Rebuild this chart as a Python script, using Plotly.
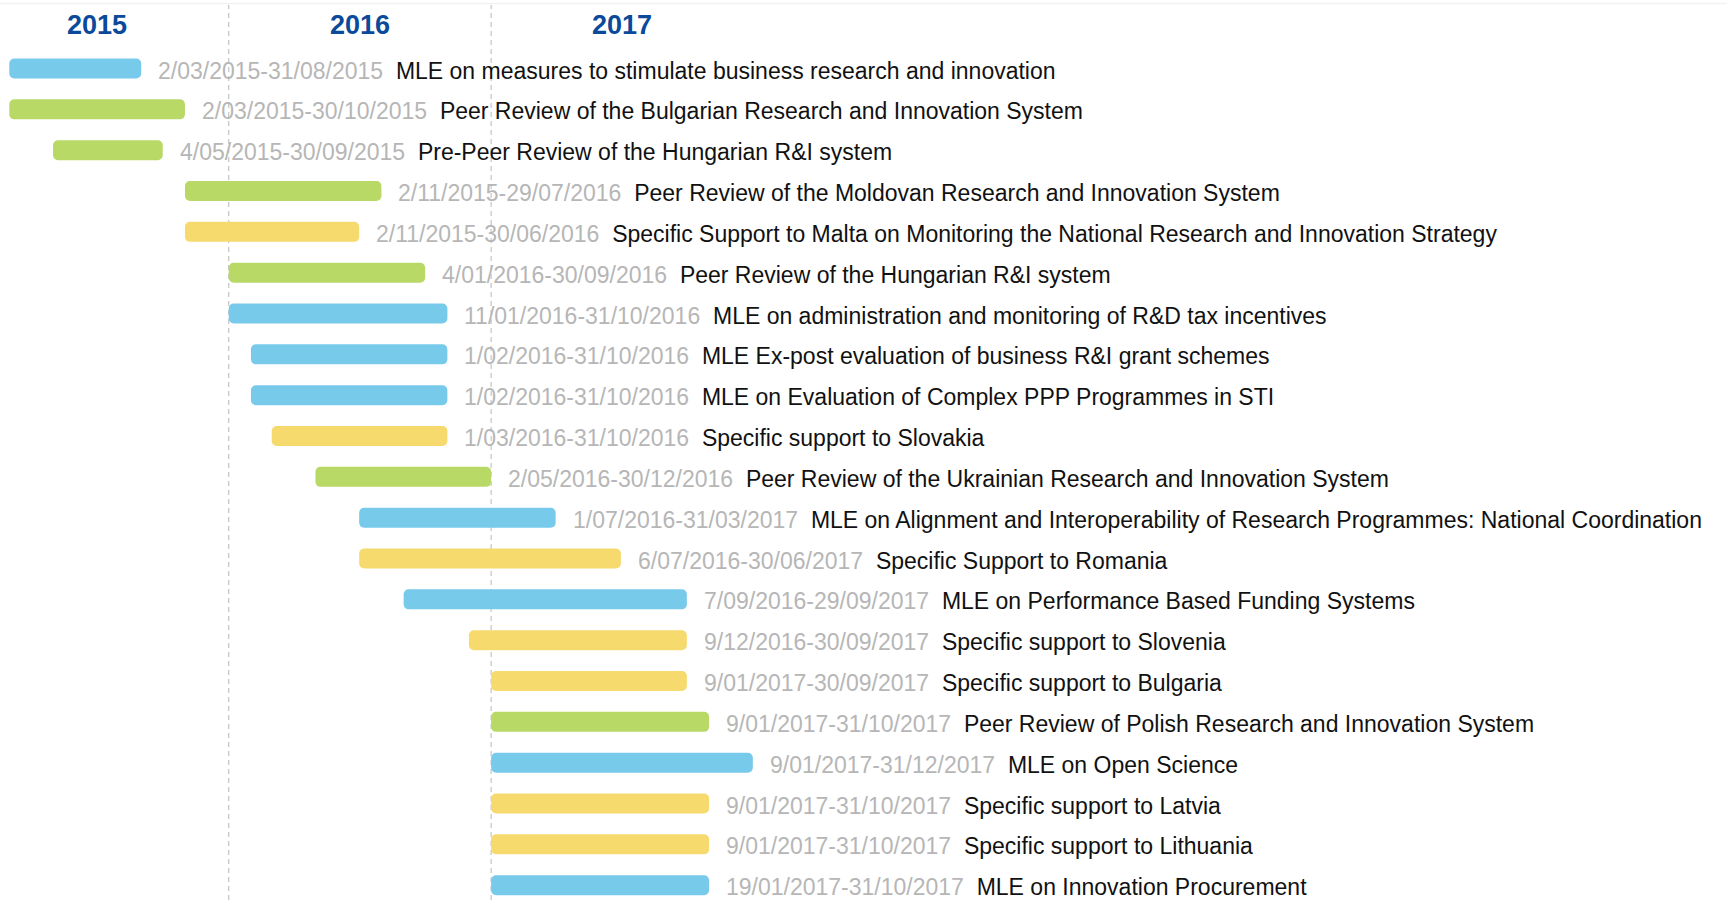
import datetime as dt
import plotly.graph_objects as go

# ---- data ----
start_dates = ["2/03/2015", "2/03/2015", "4/05/2015", "2/11/2015", "2/11/2015",
               "4/01/2016", "11/01/2016", "1/02/2016", "1/02/2016", "1/03/2016",
               "2/05/2016", "1/07/2016", "6/07/2016", "7/09/2016", "9/12/2016",
               "9/01/2017", "9/01/2017", "9/01/2017", "9/01/2017", "9/01/2017",
               "19/01/2017"]
end_dates = ["31/08/2015", "30/10/2015", "30/09/2015", "29/07/2016", "30/06/2016",
             "30/09/2016", "31/10/2016", "31/10/2016", "31/10/2016", "31/10/2016",
             "30/12/2016", "31/03/2017", "30/06/2017", "29/09/2017", "30/09/2017",
             "30/09/2017", "31/10/2017", "31/12/2017", "31/10/2017", "31/10/2017",
             "31/10/2017"]
titles = [
    "MLE on measures to stimulate business research and innovation",
    "Peer Review of the Bulgarian Research and Innovation System",
    "Pre-Peer Review of the Hungarian R&I system",
    "Peer Review of the Moldovan Research and Innovation System",
    "Specific Support to Malta on Monitoring the National Research and Innovation Strategy",
    "Peer Review of the Hungarian R&I system",
    "MLE on administration and monitoring of R&D tax incentives",
    "MLE Ex-post evaluation of business R&I grant schemes",
    "MLE on Evaluation of Complex PPP Programmes in STI",
    "Specific support to Slovakia",
    "Peer Review of the Ukrainian Research and Innovation System",
    "MLE on Alignment and Interoperability of Research Programmes: National Coordination",
    "Specific Support to Romania",
    "MLE on Performance Based Funding Systems",
    "Specific support to Slovenia",
    "Specific support to Bulgaria",
    "Peer Review of Polish Research and Innovation System",
    "MLE on Open Science",
    "Specific support to Latvia",
    "Specific support to Lithuania",
    "MLE on Innovation Procurement",
]
kinds = ["MLE", "PR", "PR", "PR", "SS", "PR", "MLE", "MLE", "MLE", "SS", "PR",
         "MLE", "SS", "MLE", "SS", "SS", "PR", "MLE", "SS", "SS", "MLE"]
years = ["2015", "2016", "2017"]

# ---- styling ----
kind_colors = {"MLE": "#78CAEB", "PR": "#B9D967", "SS": "#F6DA6D"}
FONT = "Liberation Sans, Arial, sans-serif"


def parse(s):
    d, m, y = (int(v) for v in s.split("/"))
    return dt.date(y, m, d)


def month_start(d):
    return dt.date(d.year, d.month, 1)


def next_month_start(d):
    if d.month == 12:
        return dt.date(d.year + 1, 1, 1)
    return dt.date(d.year, d.month + 1, 1)


bar_start = [month_start(parse(s)) for s in start_dates]
bar_end = [next_month_start(parse(e)) for e in end_dates]
durations_ms = [(e - s).days * 86400000 for s, e in zip(bar_start, bar_end)]
rows = list(range(len(titles)))

# figure geometry (page body margin removed via post_script)
W, H = 1727, 906
ROW_PX = 40.835
FIRST_ROW_PX = 68.5
Y_TOP = -FIRST_ROW_PX / ROW_PX
Y_BOT = Y_TOP + H / ROW_PX

fig = go.Figure()
fig.add_trace(go.Bar(
    y=rows,
    x=durations_ms,
    base=[s.isoformat() for s in bar_start],
    orientation="h",
    width=0.49,
    marker=dict(color=[kind_colors[k] for k in kinds], cornerradius=5, line=dict(width=0)),
    hoverinfo="skip",
    showlegend=False,
))

annotations = []
for r, s, e, t, be in zip(rows, start_dates, end_dates, titles, bar_end):
    annotations.append(dict(
        x=be.isoformat(), y=r, xref="x", yref="y",
        text=f"<span style='color:#B6B6B6'>{s}-{e}</span>\u00a0\u00a0<span style='color:#111111'>{t.replace('&', '&amp;')}</span>",
        showarrow=False, xanchor="left", yanchor="middle", xshift=15, yshift=-2,
        font=dict(family=FONT, size=23, color="#111111"),
    ))

for yr in years:
    annotations.append(dict(
        x=f"{yr}-07-02", y=Y_TOP + 25 / ROW_PX, xref="x", yref="y",
        text=f"<b>{yr}</b>", showarrow=False, xanchor="center", yanchor="middle",
        font=dict(family=FONT, size=27, color="#0B4A9A"),
    ))

shapes = []
for yr in years[1:]:
    shapes.append(dict(type="line", xref="x", yref="paper",
                       x0=f"{yr}-01-01", x1=f"{yr}-01-01",
                       y0=(H - 900) / H, y1=(H - 5) / H,
                       line=dict(color="#C4C4C4", width=1.2, dash="5px,4px"), layer="below"))
shapes.append(dict(type="line", xref="paper", yref="paper", x0=0, x1=1,
                   y0=(H - 3.5) / H, y1=(H - 3.5) / H,
                   line=dict(color="#F2F2F2", width=1.5), layer="below"))

ref = dt.datetime(2016, 1, 1)
px_per_day = 0.717
x_left = ref - dt.timedelta(days=228.7 / px_per_day)
x_right = ref + dt.timedelta(days=(W - 228.7) / px_per_day)

fig.update_layout(
    width=W, height=H,
    margin=dict(l=0, r=0, t=0, b=0),
    paper_bgcolor="white", plot_bgcolor="white",
    xaxis=dict(type="date", range=[x_left.isoformat(), x_right.isoformat()],
               showgrid=False, zeroline=False, showticklabels=False, showline=False,
               fixedrange=True),
    yaxis=dict(range=[Y_BOT, Y_TOP], showgrid=False, zeroline=False,
               showticklabels=False, showline=False, fixedrange=True),
    annotations=annotations,
    shapes=shapes,
    font=dict(family=FONT),
    hovermode=False,
)

fig.write_html(
    "out.html",
    config={"displayModeBar": False},
    post_script="document.body.style.margin='0';document.body.style.overflow='hidden';",
)
